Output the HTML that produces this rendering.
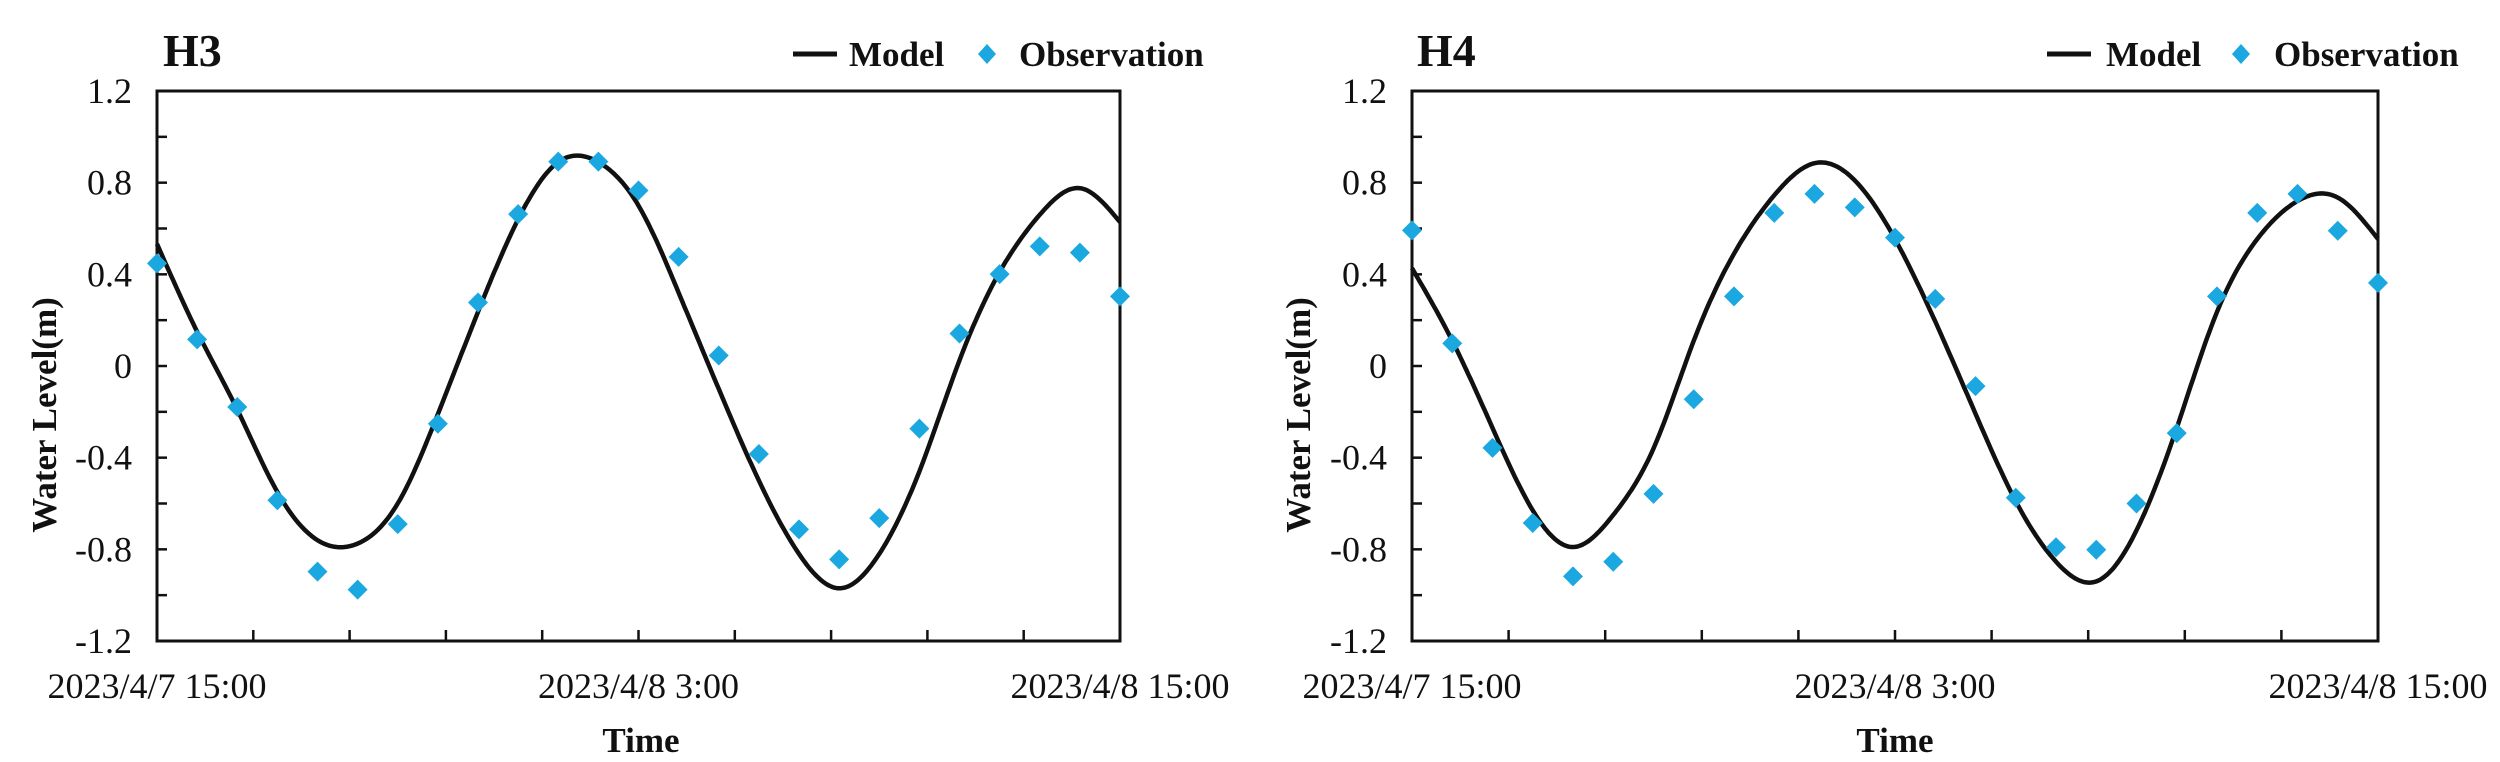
<!DOCTYPE html>
<html><head><meta charset="utf-8"><style>
html,body{margin:0;padding:0;background:#fff;width:2500px;height:762px;overflow:hidden}
svg{display:block}
text{font-family:"Liberation Serif",serif;fill:#111}
</style></head><body>
<svg id="s" width="2500" height="762" viewBox="0 0 2500 762" xmlns="http://www.w3.org/2000/svg"></svg>
<script>
var charts=[
{x0:157,x1:1120,title:"H3",tx:163,yl:44,timex:641,lg:{l1:793,l2:837,m:849,d:987,o:1019},
obs:[0.448,0.116,-0.179,-0.586,-0.897,-0.976,-0.69,-0.252,0.277,0.663,0.892,0.892,0.766,0.476,0.046,-0.384,-0.713,-0.844,-0.664,-0.273,0.142,0.401,0.522,0.495,0.304],
mod:[0.533,0.15,-0.19,-0.55,-0.76,-0.775,-0.60,-0.21,0.236,0.64,0.89,0.89,0.70,0.32,-0.10,-0.50,-0.82,-0.97,-0.82,-0.46,0.025,0.41,0.66,0.776,0.628]},
{x0:1412,x1:2378,title:"H4",tx:1417,yl:1298,timex:1895,lg:{l1:2047,l2:2091,m:2106,d:2241,o:2274},
obs:[0.592,0.099,-0.357,-0.685,-0.918,-0.854,-0.558,-0.145,0.304,0.668,0.751,0.692,0.56,0.293,-0.088,-0.575,-0.791,-0.802,-0.6,-0.293,0.304,0.668,0.751,0.59,0.363],
mod:[0.427,0.11,-0.27,-0.63,-0.79,-0.65,-0.36,0.11,0.49,0.745,0.885,0.81,0.554,0.194,-0.208,-0.59,-0.854,-0.94,-0.717,-0.27,0.236,0.554,0.72,0.735,0.554]}
];
var y0=91,y1=641,h="";
function Y(v){return y0+(1.2-v)/2.4*(y1-y0);}
// natural cubic spline on uniform grid
function spline(ys){var n=ys.length-1,M=new Array(n+1).fill(0),a=[],b=[],c=[],d=[];
 for(var i=1;i<n;i++){a[i]=1;b[i]=4;c[i]=1;d[i]=6*(ys[i+1]-2*ys[i]+ys[i-1]);}
 for(var i=2;i<n;i++){var m=a[i]/b[i-1];b[i]-=m*c[i-1];d[i]-=m*d[i-1];}
 for(var i=n-1;i>=1;i--){M[i]=(d[i]-(i<n-1?c[i]*M[i+1]:0))/b[i];}
 return function(t){var i=Math.min(Math.floor(t),n-1),u=t-i;
  return M[i]*(1-u)*(1-u)*(1-u)/6+M[i+1]*u*u*u/6+(ys[i]-M[i]/6)*(1-u)+(ys[i+1]-M[i+1]/6)*u;};}
charts.forEach(function(c){
 var w=c.x1-c.x0;function X(t){return c.x0+t/24*w;}
 h+='<text x="'+c.tx+'" y="66" font-size="46" font-weight="bold">'+c.title+'</text>';
 h+='<rect x="'+c.x0+'" y="'+y0+'" width="'+w+'" height="'+(y1-y0)+'" fill="none" stroke="#111" stroke-width="3"/>';
 for(var v=-1.2;v<=1.21;v+=0.2){var yy=Y(v);h+='<line x1="'+c.x0+'" x2="'+(c.x0+10)+'" y1="'+yy+'" y2="'+yy+'" stroke="#111" stroke-width="2.5"/>';}
 [1.2,0.8,0.4,0,-0.4,-0.8,-1.2].forEach(function(v){h+='<text x="'+(c.x0-25)+'" y="'+(Y(v)+12)+'" font-size="36" text-anchor="end">'+(v==0?"0":v.toFixed(1))+'</text>';});
 for(var i=1;i<10;i++){var xx=c.x0+i*w/10;h+='<line x1="'+xx+'" x2="'+xx+'" y1="'+y1+'" y2="'+(y1-11)+'" stroke="#111" stroke-width="2.5"/>';}
 [["2023/4/7 15:00",0],["2023/4/8 3:00",12],["2023/4/8 15:00",24]].forEach(function(l){h+='<text x="'+X(l[1])+'" y="698" font-size="36" text-anchor="middle">'+l[0]+'</text>';});
 h+='<text x="'+c.timex+'" y="752" font-size="35" font-weight="bold" text-anchor="middle">Time</text>';
 h+='<text transform="translate('+(c.yl+12)+',415) rotate(-90)" font-size="35" font-weight="bold" text-anchor="middle">Water Level(m)</text>';
 var f=spline(c.mod),pts=[];
 for(var t=0;t<=24.0001;t+=0.05){pts.push(X(t).toFixed(1)+","+Y(f(t)).toFixed(1));}
 h+='<polyline points="'+pts.join(" ")+'" fill="none" stroke="#111" stroke-width="4.5" stroke-linejoin="round"/>';
 c.obs.forEach(function(v,i){var x=X(i),y=Y(v);h+='<path d="M'+x+','+(y-10)+' L'+(x+10)+','+y+' L'+x+','+(y+10)+' L'+(x-10)+','+y+'Z" fill="#1ba7e0"/>';});
 var L=c.lg;
 h+='<line x1="'+L.l1+'" x2="'+L.l2+'" y1="54" y2="54" stroke="#111" stroke-width="5"/>';
 h+='<text x="'+L.m+'" y="66" font-size="35" font-weight="bold">Model</text>';
 h+='<path d="M'+L.d+',44 L'+(L.d+9)+',54 L'+L.d+',64 L'+(L.d-9)+',54Z" fill="#1ba7e0"/>';
 h+='<text x="'+L.o+'" y="66" font-size="35" font-weight="bold">Observation</text>';
});
document.getElementById("s").innerHTML=h;
</script>
</body></html>
